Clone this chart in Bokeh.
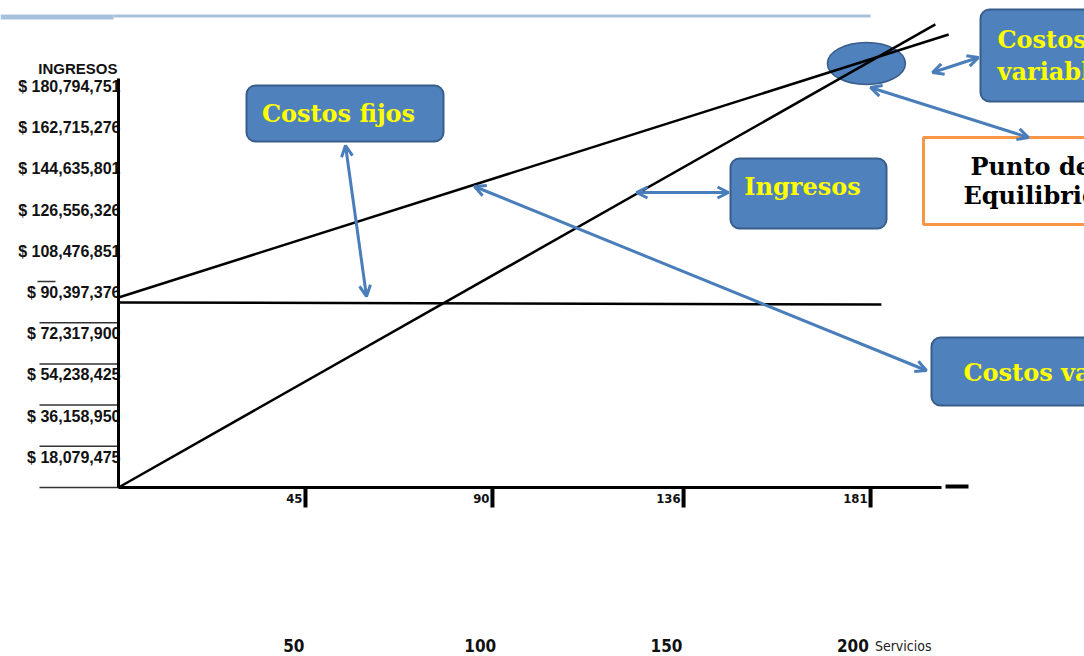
from bokeh.plotting import figure
from bokeh.models import Range1d, BoxAnnotation, Label, Arrow, OpenHead
from bokeh.core.properties import value
from bokeh.embed import file_html
from bokeh.resources import INLINE

# ---------------- data ----------------
y_ticks = [0, 18079475, 36158950, 54238425, 72317900, 90397376,
           108476851, 126556326, 144635801, 162715276, 180794751]
y_tick_labels = ["", "$ 18,079,475", "$ 36,158,950", "$ 54,238,425", "$ 72,317,900",
                 "$ 90,397,376", "$ 108,476,851", "$ 126,556,326", "$ 144,635,801",
                 "$ 162,715,276", "$ 180,794,751"]
x_ticks = [45, 90, 136, 181]
x_tick_labels = ["45", "90", "136", "181"]
serv_ticks = [50, 100, 150, 200]
serv_labels = ["50", "100", "150", "200"]

ingresos_x = [0, 196.6]
ingresos_y = [0, 203.2e6]
costo_total_x = [0, 199.8]
costo_total_y = [83.4e6, 198.8e6]
costo_fijo_x = [0, 183.6]
costo_fijo_y = [81.2e6, 80.3e6]
equilibrio_x = [180.0]
equilibrio_y = [186.1e6]

# ---------------- scale helpers (page pixels -> data, for annotations) ----------------
PX_PER_UNIT = 4.155
PESOS_PER_PX = 438800.0
X0_PAGE, Y0_PAGE = 118, 487
OFF = 0  # canvas origin on the page


def px_x(px):
    return (px - X0_PAGE) / PX_PER_UNIT


def px_y(py):
    return (Y0_PAGE - py) * PESOS_PER_PX


W, H = 1084, 656
p = figure(width=W, height=H, output_backend="svg", toolbar_location=None,
           x_range=Range1d(px_x(OFF), px_x(OFF + W)), y_range=Range1d(px_y(OFF + H), px_y(OFF)),
           x_axis_type=None, y_axis_type=None, min_border=0,
           outline_line_color=None, background_fill_color="white")
p.title = None
p.grid.visible = False

# secondary scale for the lower "Servicios" labels
SERV_PX = 3.727
SERV_X0 = 107
p.extra_x_ranges["serv"] = Range1d((OFF - SERV_X0) / SERV_PX, (OFF + W - SERV_X0) / SERV_PX)

BLUE = "#4f81bd"
BLUE_DARK = "#385d8a"
ARROW_C = "#4a7ebb"
NARROW = value("'DejaVu Sans Condensed', 'Liberation Sans', sans-serif")

# decorative top rule
p.line([px_x(0), px_x(113)], [px_y(16.5)] * 2, line_color="#a7c0de", line_width=5)
p.line([px_x(113), px_x(870)], [px_y(15.5)] * 2, line_color="#a7c0de", line_width=3)

# equilibrium ellipse
p.ellipse(x=equilibrio_x, y=equilibrio_y, width=78 / PX_PER_UNIT, height=42 * PESOS_PER_PX,
          fill_color=BLUE, line_color=BLUE_DARK, line_width=1.5)

# y tick labels
p.text(x=[0] * len(y_ticks), y=y_ticks, text=y_tick_labels, text_align="right",
       text_baseline="middle", x_offset=2, y_offset=11,
       text_font=value("Liberation Sans"), text_font_style="bold",
       text_font_size="16px", text_color="#111111")
p.text(x=[0], y=[y_ticks[-1]], text=["INGRESOS"], text_align="right",
       text_baseline="middle", x_offset=-1, y_offset=-7,
       text_font=value("Liberation Sans"), text_font_style="bold",
       text_font_size="15px", text_color="#111111")

# short left tick rules
low = y_ticks[:5]
p.segment(x0=[px_x(39)] * len(low), y0=low, x1=[0] * len(low), y1=low,
          line_color="#333333", line_width=1.5)
p.segment(x0=[px_x(37)], y0=[y_ticks[5]], x1=[px_x(55)], y1=[y_ticks[5]],
          line_color="#333333", line_width=1.5)

# axes
p.line([0, 0], [0, y_ticks[-1] - 3 * PESOS_PER_PX], line_color="black", line_width=3)
p.line([0, px_x(941)], [0, 0], line_color="black", line_width=3)
p.line([px_x(945), px_x(968)], [px_y(486)] * 2, line_color="black", line_width=4)

# x ticks
p.segment(x0=x_ticks, y0=[0] * 4, x1=x_ticks, y1=[px_y(507)] * 4,
          line_color="black", line_width=4)
p.text(x=x_ticks, y=[0] * 4, text=x_tick_labels, text_align="right",
       text_baseline="middle", x_offset=-3, y_offset=11,
       text_font=NARROW, text_font_style="bold",
       text_font_size="13px", text_color="#111111")

# lower labels
p.text(x=serv_ticks, y=[px_y(645)] * 4, text=serv_labels, text_align="center",
       text_baseline="middle", x_range_name="serv",
       text_font=NARROW, text_font_style="bold",
       text_font_size="17px", text_color="#111111")
p.text(x=[serv_ticks[-1]], y=[px_y(645)], text=["Servicios"], text_align="left",
       text_baseline="middle", x_offset=22, x_range_name="serv",
       text_font=NARROW, text_font_size="14px",
       text_color="#222222")

# lines
p.line(costo_fijo_x, costo_fijo_y, line_color="black", line_width=2.5)
p.line(costo_total_x, costo_total_y, line_color="black", line_width=2.5)
p.line(ingresos_x, ingresos_y, line_color="black", line_width=2.5)


# callout boxes
def box(l, t, r, b, fill=BLUE, line=BLUE_DARK, lw=2, radius=9):
    p.add_layout(BoxAnnotation(left=px_x(l), right=px_x(r), top=px_y(t), bottom=px_y(b),
                               fill_color=fill, fill_alpha=1, line_color=line,
                               line_alpha=1, line_width=lw, border_radius=radius))


def label(x, y, text, align="left", color="#ffff00"):
    p.add_layout(Label(x=px_x(x), y=px_y(y), text=text, text_align=align,
                       text_baseline="middle", text_color=color,
                       text_font="DejaVu Serif", text_font_style="bold",
                       text_font_size="24px"))


def arrow(x0, y0, x1, y1):
    p.add_layout(Arrow(start=OpenHead(size=11, line_color=ARROW_C, line_width=3),
                       end=OpenHead(size=11, line_color=ARROW_C, line_width=3),
                       x_start=px_x(x0), y_start=px_y(y0), x_end=px_x(x1), y_end=px_y(y1),
                       line_color=ARROW_C, line_width=3))


box(246, 85, 443, 141)
label(338, 113, "Costos fijos", "center")
box(730, 158, 886, 228)
label(802, 186, "Ingresos", "center")
box(980, 9, 1110, 101)
label(997, 39, "Costos")
label(997, 71, "variables")
box(931, 337, 1110, 405)
label(963, 372, "Costos variables")
box(923, 137, 1110, 224, fill="white", line="#f79646", lw=3, radius=0)
label(970, 166, "Punto de", color="black")
label(963, 195, "Equilibrio", color="black")

arrow(345, 145, 366, 296)
arrow(636, 192, 728, 192)
arrow(474, 186, 926, 370)
arrow(932, 72, 978, 57)
arrow(870, 87, 1028, 137)

open("out.html", "w").write(file_html(p, INLINE))
